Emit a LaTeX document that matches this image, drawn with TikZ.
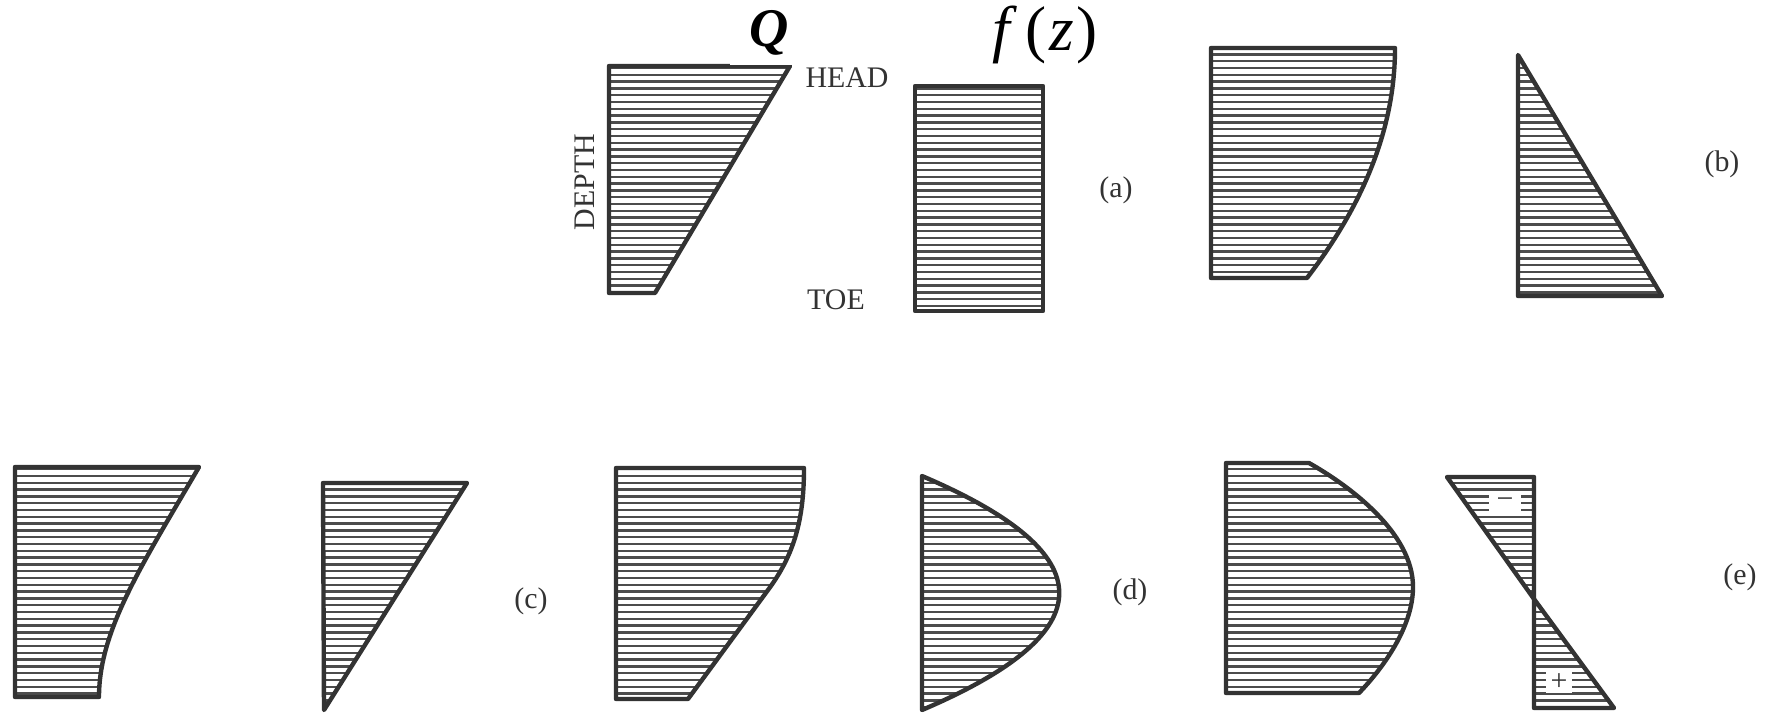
\documentclass[tikz,border=0pt]{standalone}
\usepackage{fontspec}
\setmainfont{Liberation Serif}

\definecolor{ink}{HTML}{333333}
\definecolor{hatchgray}{HTML}{4C4C4C}
\newcommand{\lblsize}{\fontsize{17}{20}\selectfont}

\tikzset{
  outline/.style={draw=ink, line width=2.5pt, line join=round},
  hatch/.style={draw=hatchgray, line width=1.35pt},
  lbl/.style={font=\lblsize, text=ink, inner sep=0pt},
  signbox/.style={font=\lblsize, text=ink, fill=white, inner sep=0pt, minimum height=12pt},
}

% ruled area: clip to the outline, draw the rules, then the outline on top
\newcommand{\hatchshape}[1]{%
  \begin{scope}
    \clip #1;
    \foreach \hy in {0,6.8,...,713}
      \draw[hatch] (0,\hy) -- (1769,\hy);
  \end{scope}
  \draw[outline] #1;
}

\begin{document}
\begin{tikzpicture}[x=0.02cm,y=-0.02cm]
  \fill[white] (0,0) rectangle (1769,713);
  \useasboundingbox (0,0) rectangle (1769,713);

  % (a) discharge Q falls off linearly, f(z) is uniform
  \hatchshape{(609,66) -- (790,66) -- (655,293) -- (609,293) -- cycle}
  \hatchshape{(915,86) rectangle (1043,311)}
  \node[font=\fontsize{31}{33}\selectfont, fill=white, inner sep=0pt,
        minimum width=44pt, minimum height=37pt, anchor=south] (qlabel) at (769,65.5) {\textbf{\textit{Q}}};
  \node[font=\fontsize{36}{40}\selectfont, inner sep=0pt] (flabel) at (1045,35)
    {\textit{f}\kern5pt(\kern1.5pt\textit{z}\kern1.5pt)};
  \node[lbl] (head) at (847,78) {HEAD};
  \node[lbl] (toe) at (836,300) {TOE};
  \node[lbl, rotate=90] (depth) at (585,182) {DEPTH};

  % (b) parabolic Q, triangular f(z)
  \hatchshape{(1211,48) -- (1395,48) .. controls (1395,125) and (1366,201) .. (1307,278) -- (1211,278) -- cycle}
  \hatchshape{(1518,55) -- (1662,296) -- (1518,296) -- cycle}

  % (c)
  \hatchshape{(15,467) -- (199,467) .. controls (142,565) and (99,630) .. (99,697) -- (15,697) -- cycle}
  \hatchshape{(323,483) -- (467,483) -- (324,710) -- cycle}

  % (d)
  \hatchshape{(616,468) -- (804,468) .. controls (804,520) and (794,555) .. (768,590) -- (688,699) -- (616,699) -- cycle}
  \hatchshape{(922,476) .. controls (1105,554) and (1105,632) .. (922,710) -- cycle}

  % (e) f(z) changes sign half way down
  \hatchshape{(1226,463) -- (1309,463) .. controls (1348,485) and (1413,532) .. (1413,587)
              .. controls (1413,627) and (1383,668) .. (1359,693) -- (1226,693) -- cycle}
  \hatchshape{(1447,477) -- (1534,477) -- (1534,599) -- cycle}
  \hatchshape{(1534,599) -- (1614,708) -- (1534,708) -- cycle}
  \node[signbox, minimum width=18pt] (minus) at (1505,503) {−};
  \node[signbox, minimum width=15pt] (plus) at (1559,682) {+};

  % case tags
  \foreach \px/\py/\tag in {1116/190/a, 1722/164/b, 531/601/c, 1130/592/d, 1740/577/e}
    \node[lbl] (tag-\tag) at (\px,\py) {(\tag)};
\end{tikzpicture}
\end{document}
